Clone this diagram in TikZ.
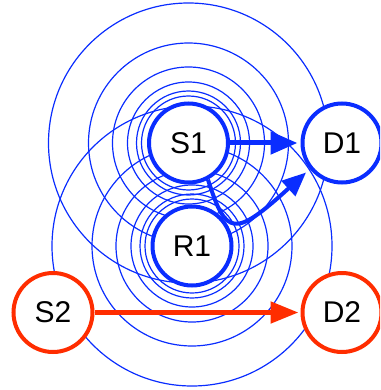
\documentclass[tikz,border=0pt]{standalone}
\usepackage{fontspec}
\setmainfont{Liberation Sans}
\usetikzlibrary{arrows.meta,backgrounds}
\definecolor{ringblue}{RGB}{10,45,255}
\definecolor{flowred}{RGB}{255,45,0}

\begin{document}
\begin{tikzpicture}[
  x=1pt, y=-1pt,
  terminal/.style={circle, draw, line width=4pt, fill=white, minimum size=79pt, inner sep=0pt, font=\fontsize{30}{36}\selectfont},
  blueterm/.style={terminal, draw=ringblue},
  redterm/.style={terminal, draw=flowred},
  ring/.style={ringblue, line width=1.2pt},
  directflow/.style={ringblue, line width=5pt, shorten >=3pt, -{Triangle[length=27pt,width=22pt]}},
  relayflow/.style={ringblue, line width=4pt, shorten >=5pt, -{Triangle[length=24pt,width=20pt]}},
  redflow/.style={flowred, line width=5pt, shorten >=2pt, -{Triangle[length=28pt,width=21pt]}}
]
\clip (0,0) rectangle (380,390);
% terminals
\node[blueterm] (s1) at (188.5,143) {S1};
\node[blueterm] (d1) at (342,143) {D1};
\node[blueterm] (r1) at (192,246) {R1};
\node[redterm] (s2) at (53,312.5) {S2};
\node[redterm] (d2) at (342,312.5) {D2};
% radiation rings behind the terminals
\begin{scope}[on background layer]
  \foreach \r in {47,52,61,76,100,140} {
    \draw[ring] (s1.center) circle[radius=\r pt];
    \draw[ring] (r1.center) circle[radius=\r pt];
  }
\end{scope}
% flows
\draw[directflow] (s1) -- (d1);
\draw[relayflow] (s1.-62) .. controls (226,236) and (234,238) .. (d1.-141);
\draw[redflow] (s2) -- (d2);
\end{tikzpicture}
\end{document}
